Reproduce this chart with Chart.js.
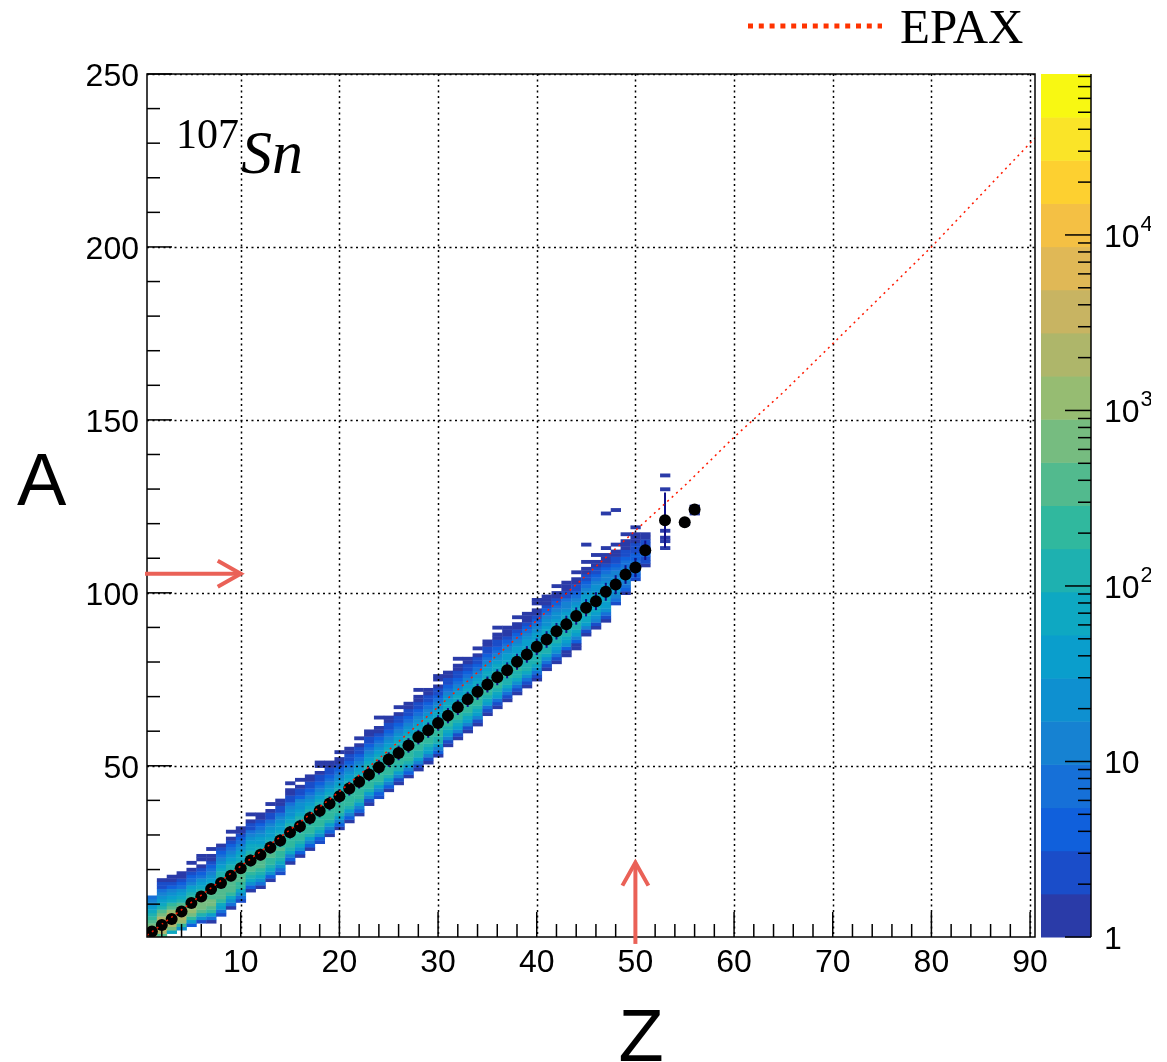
<!DOCTYPE html>
<html>
<head>
<meta charset="utf-8">
<script src="https://cdn.jsdelivr.net/npm/chart.js@4.4.0/dist/chart.umd.min.js"></script>
<style>
html,body{margin:0;padding:0;background:#fff;}
#wrap{width:1167px;height:1062px;position:relative;}
</style>
</head>
<body>
<div id="wrap"><canvas id="plot" width="1167" height="1062"></canvas></div>
<script>
// ---- data ----
const xTicks = [10, 20, 30, 40, 50, 60, 70, 80, 90];
const yTicks = [50, 100, 150, 200, 250];
const cTicks = [1, 10, 100, 1000, 10000];
const cTickLabels = [['1', ''], ['10', ''], ['10', '2'], ['10', '3'], ['10', '4']];
const cMax = 82600;

// mean A for each Z (black markers) and their errors
const meanZ = [1,2,3,4,5,6,7,8,9,10,11,12,13,14,15,16,17,18,19,20,21,22,23,24,25,26,27,28,29,30,
  31,32,33,34,35,36,37,38,39,40,41,42,43,44,45,46,47,48,49,50,51,53,55,56];
const meanA = [2.1,4.0,5.7,7.9,10.3,12.2,14.4,16.1,18.2,20.4,22.6,24.3,26.4,28.4,30.8,32.5,34.9,37.0,39.1,41.2,
  43.4,45.4,47.5,49.6,51.8,53.7,55.9,58.3,60.3,62.4,64.5,66.9,69.2,71.4,73.5,75.6,77.6,80.1,82.2,84.4,
  86.5,88.9,90.9,93.3,95.7,97.6,100.3,102.4,105.3,107.3,112.3,121.0,120.4,124.1];
const errA = [0.8,1.0,1.1,1.2,1.3,1.4,1.5,1.5,1.6,1.6,1.7,1.7,1.8,1.8,1.8,1.9,1.9,1.9,2.0,2.0,
  2.0,2.0,2.0,2.1,2.1,2.1,2.1,2.1,2.2,2.2,2.2,2.2,2.2,2.3,2.3,2.3,2.3,2.3,2.4,2.4,
  2.4,2.4,2.5,2.5,2.5,2.6,2.6,2.7,2.7,2.8,2.8,8.0,0,0.6];

// EPAX prediction
const epaxZ = [0.5, 1, 5, 10, 15, 20, 25, 30, 35, 40, 45, 50, 55, 60, 65, 70, 75, 80, 85, 90, 90.5];
const epaxA = [1, 2, 10.5, 21, 31.5, 42.5, 54.5, 67, 79.5, 92, 105, 118, 131, 145, 158, 172, 186, 200, 215, 230, 231.5];

// 2D histogram: for each Z column, the first A bin and the counts upward from it
const cellZ = [1,2,3,4,5,6,7,8,9,10,11,12,13,14,15,16,17,18,19,20,21,22,23,24,25,26,27,28,29,30,
  31,32,33,34,35,36,37,38,39,40,41,42,43,44,45,46,47,48,49,50,51,53,55,56];
const cellLo = [1,1,2,3,4,5,5,7,9,11,14,15,17,19,22,24,26,28,30,32,34,36,39,41,43,45,47,49,51,53,
  56,58,60,62,65,67,69,71,73,75,78,80,82,84,88,90,92,97,100,104,108,113,120,123];
const cellCounts = [
  [3000,2600,1300,700,380,220,120,70,35,20,10,6],
  [350,2200,5200,6000,4200,1900,800,330,160,80,42,22,11,6,3,2,1],
  [60,600,2600,4600,4800,2800,1100,420,180,85,40,20,10,5,3,1,1],
  [25,250,900,1600,1700,1200,650,320,150,75,38,18,9,5,2,1,1],
  [4,40,250,650,950,1000,800,480,240,120,60,30,15,8,4,2,1,0,1],
  [2,20,120,380,650,720,620,420,240,130,66,34,17,9,4,2,1,0,1,1],
  [1,8,50,190,400,520,540,470,340,220,130,75,42,24,13,7,4,2,1,1,0,1],
  [2,8,30,90,200,320,400,420,400,330,240,160,100,62,38,22,13,7,4,2,1],
  [1,6,24,80,180,290,370,400,380,310,225,150,95,60,36,21,12,7,4,2,1,0,1],
  [2,7,26,80,170,270,340,360,340,280,205,140,90,56,34,20,12,7,4,2,1,1],
  [1,5,20,70,160,255,320,340,320,265,195,132,86,54,33,19,11,6,3,2,1,0,1],
  [1,6,22,72,158,250,310,330,310,255,188,128,84,52,32,19,11,6,4,2,1,1],
  [1,4,18,62,140,225,285,305,290,240,178,122,80,50,31,18,10,6,3,2,1,0,1],
  [2,6,20,64,140,222,280,300,282,234,172,118,78,49,30,18,10,6,3,2,1,1],
  [1,4,16,56,128,208,265,285,270,225,166,114,75,47,29,17,10,6,3,2,1,1,0,1],
  [1,5,18,58,128,205,260,280,264,220,162,112,74,46,28,17,10,5,3,2,1,0,1],
  [1,4,15,52,120,196,250,270,256,214,158,108,72,45,28,16,9,5,3,2,1,1],
  [2,5,17,55,122,196,248,266,250,208,154,106,70,44,27,16,9,5,3,2,1,0,1,1],
  [1,4,14,50,115,188,240,260,246,205,152,104,69,43,27,16,9,5,3,2,1,1],
  [1,5,16,52,116,186,236,254,240,200,148,102,68,43,26,15,9,5,3,1,1,0,1],
  [1,4,14,48,110,180,230,248,236,196,145,100,66,42,26,15,9,5,3,2,1,1],
  [1,4,15,50,112,180,228,245,232,193,143,99,66,42,26,15,9,5,3,2,1,0,1],
  [1,3,13,46,106,174,222,240,228,190,141,97,65,41,25,15,8,5,3,2,1,1],
  [2,5,16,50,110,176,222,238,225,187,139,96,64,41,25,15,8,5,3,1,1,0,0,1],
  [1,4,14,46,104,170,216,232,220,184,137,95,63,40,25,14,8,5,3,2,1,1],
  [1,3,12,42,98,163,210,228,217,182,136,94,63,40,25,14,8,5,3,2,1,0,1],
  [1,4,14,45,102,166,210,226,214,179,134,93,62,40,24,14,8,5,3,2,1,1],
  [1,3,12,41,95,158,204,220,210,176,132,92,62,39,24,14,8,5,3,2,1,1,0,1],
  [1,3,11,38,90,152,198,215,206,174,131,91,61,39,24,14,8,5,3,2,1,1],
  [1,4,13,42,95,156,200,216,206,173,130,90,60,38,24,14,8,5,3,2,1,0,1,1],
  [1,3,11,37,88,148,192,210,200,169,127,88,59,38,23,14,8,5,3,2,1,1],
  [1,3,12,38,88,146,190,206,196,166,125,87,58,37,23,14,8,5,3,2,1,1,0,1],
  [1,3,10,34,82,138,182,198,190,161,121,85,57,36,23,13,8,5,3,2,1,1],
  [1,3,10,34,80,135,178,194,186,158,119,83,56,36,22,13,8,5,3,2,1,0,1],
  [1,2,9,31,75,128,170,186,179,152,115,81,54,35,22,13,8,4,3,2,1,1],
  [1,3,9,31,73,124,165,180,173,147,112,79,53,34,21,13,7,4,3,2,1,1,0,1],
  [1,2,8,28,68,116,156,172,166,141,108,76,51,33,21,12,7,4,2,1,1,1],
  [1,2,8,27,65,112,151,166,160,137,105,74,50,32,20,12,7,4,2,1,1,0,1],
  [1,2,7,25,60,105,143,158,153,131,100,71,48,31,19,12,7,4,2,1,1,1],
  [1,2,7,24,58,101,138,152,147,126,97,69,47,30,19,11,7,4,2,1,1,0,1,1],
  [1,2,6,22,53,94,129,143,139,119,92,66,45,29,18,11,6,4,2,1,1,1],
  [1,2,6,20,49,87,120,134,130,112,87,62,42,28,17,10,6,4,2,1,1,0,1],
  [1,1,5,18,44,79,110,123,120,104,81,58,40,26,16,10,6,3,2,1,1,1],
  [1,1,5,16,40,72,100,112,110,95,75,54,37,24,15,9,5,3,2,1,1,0,1],
  [1,3,12,32,60,84,96,94,82,64,47,33,22,14,9,5,3,2,1,1,0,1,0,0,0,0,1],
  [1,3,10,26,48,68,78,77,67,53,39,27,18,12,7,4,3,2,1,1,0,1],
  [1,2,7,19,36,52,61,61,54,43,32,22,15,10,6,4,2,1,1,1,0,1,0,0,0,0,0,0,0,0,0,1],
  [2,6,14,24,32,34,30,23,16,11,7,5,3,2,1,1,0,1,0,0,0,0,0,0,0,0,0,1],
  [1,4,9,14,18,19,16,12,8,6,4,3,2,1,1,1,0,1],
  [2,4,7,9,8,6,5,4,3,2,2,1,1,1,0,1],
  [1,2,3,4,4,3,2,2,1,1],
  [1,0,1,1,0,1,0,0,0,0,0,0,0,0,0,0,0,1,0,0,0,1],
  [1],
  [1,1,1]
];

// annotation arrows (data coordinates)
const arrowA = 105.5;   // horizontal arrow, from left edge to Z = 10
const arrowAZ = 10;
const arrowZ = 50;      // vertical arrow, tip at A = 22
const arrowZA = 22;

// ROOT bird palette, 20 contours, bottom to top
const palette = ['#2a3ba8','#1a4dc9','#1060dc','#1670d8','#1682d2','#0e90d0','#0a9ecc','#0ea8c2','#1eb1b0','#30b89e',
  '#52ba8e','#76bc80','#96bc72','#aeb66a','#c8b462','#e0b856','#f4c044','#fdd030','#fae428','#f8f812'];

const SANS = '"Liberation Sans", Arial, Helvetica, sans-serif';
const SERIF = '"Liberation Serif", "Times New Roman", serif';

function levelOf(n) {
  let lev = Math.floor(Math.log10(n) / Math.log10(cMax) * palette.length);
  return Math.min(palette.length - 1, Math.max(0, lev));
}

function seg(ctx, x0, y0, x1, y1) {
  ctx.beginPath(); ctx.moveTo(x0, y0); ctx.lineTo(x1, y1); ctx.stroke();
}

const histPlugin = {
  id: 'hist',
  beforeDatasetsDraw(chart) {
    const ctx = chart.ctx, a = chart.chartArea, x = chart.scales.x, y = chart.scales.y;
    ctx.save();
    ctx.beginPath();
    ctx.rect(a.left, a.top, a.right - a.left, a.bottom - a.top);
    ctx.clip();
    cellZ.forEach((z, i) => {
      const x0 = x.getPixelForValue(z - 0.5), x1 = x.getPixelForValue(z + 0.5);
      cellCounts[i].forEach((n, j) => {
        if (!n) return;
        const A = cellLo[i] + j;
        const y0 = y.getPixelForValue(A + 0.5), y1 = y.getPixelForValue(A - 0.5);
        ctx.fillStyle = palette[levelOf(n)];
        ctx.fillRect(x0, y0, x1 - x0 + 0.4, y1 - y0 + 0.4);
      });
    });
    // dotted grid
    ctx.strokeStyle = '#000';
    ctx.lineWidth = 1.5;
    ctx.setLineDash([2, 3.5]);
    xTicks.forEach(v => {
      const px = Math.round(x.getPixelForValue(v)) + 0.5;
      seg(ctx, px, a.top, px, a.bottom);
    });
    yTicks.forEach(v => {
      const py = Math.round(y.getPixelForValue(v)) + 0.5;
      seg(ctx, a.left, py, a.right, py);
    });
    ctx.setLineDash([]);
    // error bars
    ctx.strokeStyle = '#10108a';
    ctx.lineWidth = 2;
    meanZ.forEach((z, i) => {
      if (!errA[i]) return;
      const px = x.getPixelForValue(z);
      seg(ctx, px, y.getPixelForValue(meanA[i] - errA[i]), px, y.getPixelForValue(meanA[i] + errA[i]));
    });
    ctx.restore();
  },
  afterDatasetsDraw(chart) {
    const ctx = chart.ctx, a = chart.chartArea, x = chart.scales.x, y = chart.scales.y, c = chart.scales.c;
    ctx.save();
    // frame
    ctx.strokeStyle = '#000';
    ctx.lineWidth = 1.5;
    ctx.strokeRect(a.left, a.top, a.right - a.left, a.bottom - a.top);
    // ticks
    for (let v = 2; v <= 90; v += 2) {
      const px = x.getPixelForValue(v);
      const len = (v % 10 === 0) ? 25 : 13;
      seg(ctx, px, a.bottom, px, a.bottom - len);
    }
    for (let v = 10; v <= 250; v += 10) {
      const py = y.getPixelForValue(v);
      const len = (v % 50 === 0) ? 25 : 13;
      seg(ctx, a.left, py, a.left + len, py);
    }
    // tick labels
    ctx.fillStyle = '#000';
    ctx.font = '32px ' + SANS;
    ctx.textAlign = 'center';
    ctx.textBaseline = 'alphabetic';
    xTicks.forEach(v => ctx.fillText(String(v), x.getPixelForValue(v), 972));
    ctx.textAlign = 'right';
    yTicks.forEach(v => ctx.fillText(String(v), 139, y.getPixelForValue(v) + 12));
    // axis titles
    ctx.font = '74px ' + SANS;
    ctx.textAlign = 'left';
    ctx.fillText('A', 17, 505);
    ctx.textAlign = 'center';
    ctx.fillText('Z', 641, 1061);

    // colour bar
    const bx0 = 1041, bx1 = 1091;
    const lmax = Math.log10(cMax);
    for (let k = 0; k < palette.length; k++) {
      const lo = Math.pow(10, k * lmax / palette.length), hi = Math.pow(10, (k + 1) * lmax / palette.length);
      const p0 = c.getPixelForValue(lo), p1 = c.getPixelForValue(hi);
      ctx.fillStyle = palette[k];
      ctx.fillRect(bx0, p1, bx1 - bx0, p0 - p1 + 0.5);
    }
    ctx.strokeStyle = '#000';
    ctx.lineWidth = 1.5;
    seg(ctx, bx1, a.top, bx1, a.bottom);
    for (let d = 1; d <= cMax; d *= 10) {
      for (let m = 1; m <= 9; m++) {
        const v = d * m;
        if (v > cMax) break;
        const py = c.getPixelForValue(v);
        seg(ctx, bx1, py, bx1 - (m === 1 ? 26 : 13), py);
      }
    }
    ctx.save();
    ctx.beginPath();
    ctx.rect(1095, 0, 1151 - 1095, 1062);
    ctx.clip();
    ctx.fillStyle = '#000';
    ctx.textAlign = 'left';
    cTicks.forEach((v, i) => {
      const py = c.getPixelForValue(v);
      ctx.font = '32px ' + SANS;
      ctx.fillText(cTickLabels[i][0], 1104, py + 12);
      if (cTickLabels[i][1]) {
        const w = ctx.measureText(cTickLabels[i][0]).width;
        ctx.font = '22px ' + SANS;
        ctx.fillText(cTickLabels[i][1], 1104 + w + 1, py - 4);
      }
    });
    ctx.restore();

    // arrows
    ctx.strokeStyle = '#ea6157';
    ctx.lineWidth = 4;
    const hy = y.getPixelForValue(arrowA), hx = x.getPixelForValue(arrowAZ);
    seg(ctx, a.left - 2, hy, hx, hy);
    ctx.beginPath(); ctx.moveTo(hx - 23, hy - 13); ctx.lineTo(hx, hy); ctx.lineTo(hx - 23, hy + 13); ctx.stroke();
    const vx = x.getPixelForValue(arrowZ), vy = y.getPixelForValue(arrowZA);
    seg(ctx, vx, y.getPixelForValue(-1.5), vx, vy);
    ctx.beginPath(); ctx.moveTo(vx - 13, vy + 23); ctx.lineTo(vx, vy); ctx.lineTo(vx + 13, vy + 23); ctx.stroke();

    // projectile label
    ctx.fillStyle = '#000';
    ctx.textAlign = 'left';
    ctx.font = '42px ' + SERIF;
    ctx.fillText('107', 176, 148);
    ctx.font = 'italic 62px ' + SERIF;
    ctx.fillText('Sn', 241, 173);

    // legend
    ctx.strokeStyle = '#ff3300';
    ctx.lineWidth = 5;
    ctx.setLineDash([5, 5.8]);
    seg(ctx, 748, 26, 882, 26);
    ctx.setLineDash([]);
    ctx.font = '49px ' + SERIF;
    ctx.fillText('EPAX', 900, 43);
    ctx.restore();
  }
};

const chart = new Chart(document.getElementById('plot'), {
  type: 'scatter',
  data: {
    datasets: [{
      type: 'line',
      label: 'EPAX',
      data: epaxZ.map((z, i) => ({x: z, y: epaxA[i]})),
      borderColor: '#ff1a00',
      borderWidth: 1.5,
      borderDash: [2, 4],
      pointRadius: 0,
      fill: false,
      order: 1
    }, {
      type: 'scatter',
      label: 'mean A',
      data: meanZ.map((z, i) => ({x: z, y: meanA[i]})),
      backgroundColor: '#000',
      borderWidth: 0,
      pointRadius: 6,
      order: 2
    }]
  },
  options: {
    responsive: false,
    animation: false,
    devicePixelRatio: 1,
    layout: {padding: {left: 147, right: 132, top: 74, bottom: 125}},
    plugins: {legend: {display: false}, tooltip: {enabled: false}},
    scales: {
      x: {type: 'linear', min: 0.5, max: 90.5, display: false},
      y: {type: 'linear', min: 0.5, max: 250, display: false},
      c: {type: 'logarithmic', axis: 'y', position: 'right', min: 1, max: cMax, display: false}
    }
  },
  plugins: [histPlugin]
});
</script>
</body>
</html>
